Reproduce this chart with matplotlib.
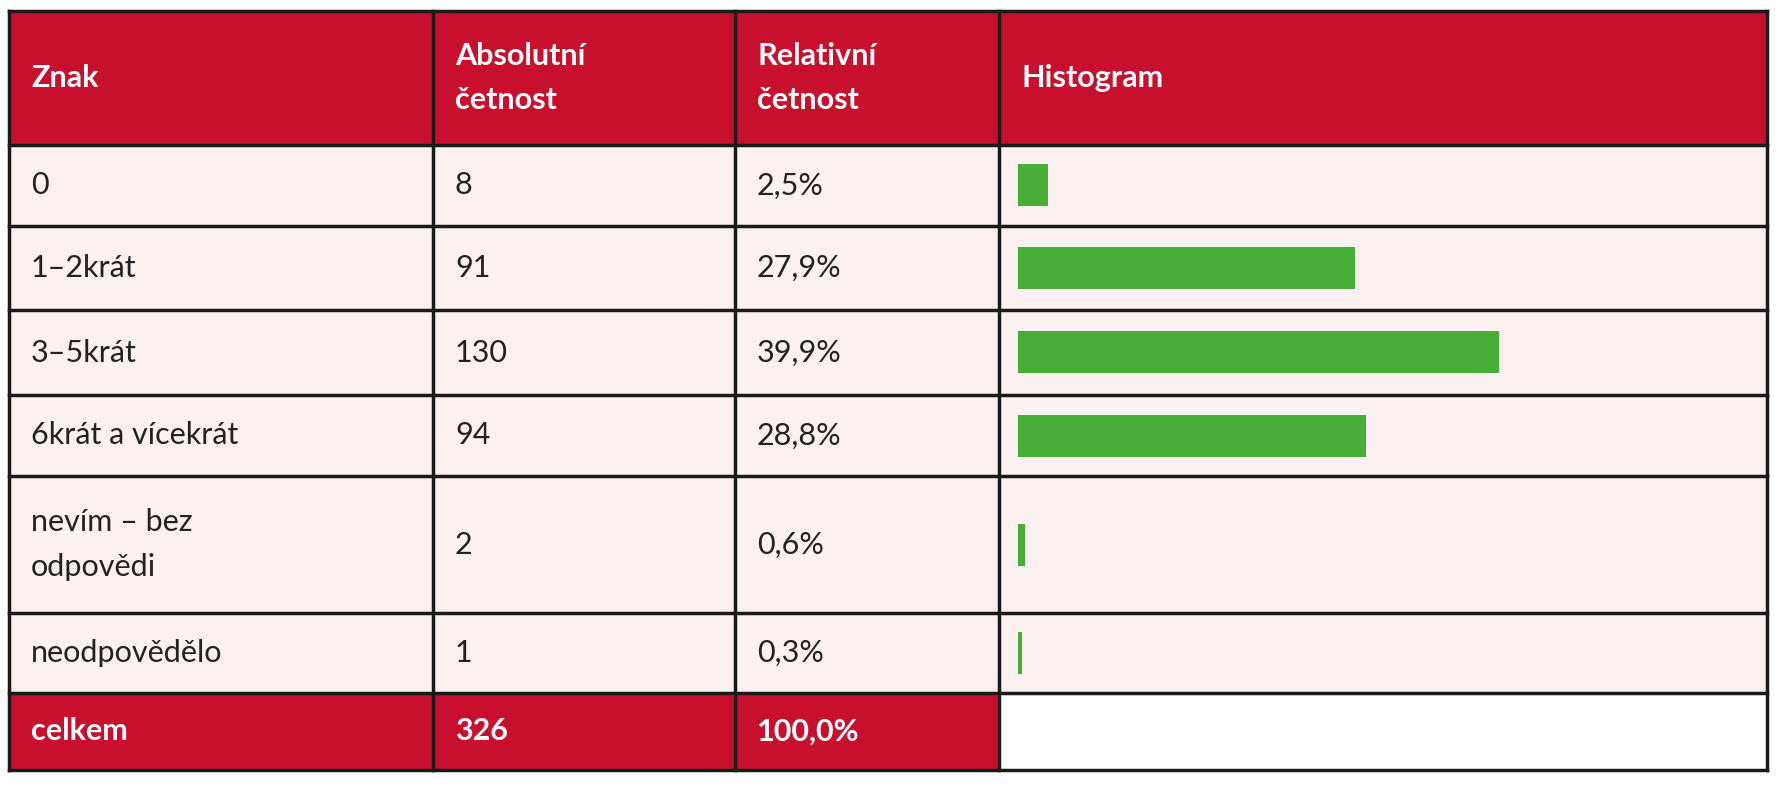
import matplotlib
matplotlib.use("Agg")
import matplotlib.pyplot as plt
from matplotlib.patches import Rectangle

headers = ["Znak", "Absolutní\nčetnost", "Relativní\nčetnost", "Histogram"]
categories = ["0", "1–2krát", "3–5krát", "6krát a vícekrát", "nevím – bez\nodpovědi", "neodpovědělo"]
counts = [8, 91, 130, 94, 2, 1]
percents = ["2,5%", "27,9%", "39,9%", "28,8%", "0,6%", "0,3%"]
total_label = "celkem"
total_count = "326"
total_pct = "100,0%"

W, H = 1778, 800
RED = "#C8102E"
ROWBG = "#FCF1F1"
GREEN = "#46AE37"
cols = [9, 433, 735, 999, 1767]
rows = [11, 145, 226, 310, 395, 476, 613, 693, 770]

fig = plt.figure(figsize=(W/100, H/100), dpi=100)
ax = fig.add_axes([0, 0, 1, 1])
ax.set_xlim(0, W); ax.set_ylim(H, 0); ax.axis("off")
font = "Lato"

def cell(c, r, color):
    ax.add_patch(Rectangle((cols[c], rows[r]), cols[c+1]-cols[c], rows[r+1]-rows[r], fc=color, ec="none", zorder=0))

nrows = len(categories) + 2
for r in range(nrows):
    for c in range(4):
        if r == 0 or (r == nrows-1 and c < 3):
            cell(c, r, RED)
        elif r == nrows-1:
            cell(c, r, "white")
        else:
            cell(c, r, ROWBG)

for y in rows:
    ax.plot([cols[0], cols[-1]], [y, y], color="#1a1a1a", lw=2.5, zorder=3)
for x in cols:
    ax.plot([x, x], [rows[0], rows[-1]], color="#1a1a1a", lw=2.5, zorder=3)

tx = [c + 22 for c in cols[:4]]
def put(c, r, s, color="#222222", bold=False):
    yc = (rows[r] + rows[r+1]) / 2
    ax.text(tx[c], yc, s, ha="left", va="center", fontsize=22, family=font,
            color=color, fontweight="bold" if bold else "normal", linespacing=1.7, zorder=4)

for c, h in enumerate(headers):
    put(c, 0, h, "white", True)
for i, (cat, n, p) in enumerate(zip(categories, counts, percents)):
    put(0, i+1, cat); put(1, i+1, str(n)); put(2, i+1, p)
put(0, nrows-1, total_label, "white", True)
put(1, nrows-1, total_count, "white", True)
put(2, nrows-1, total_pct, "white", True)

# histogram bars
x0, x1 = 1018, 1767
y0, y1 = rows[1], rows[nrows-1]
hax = fig.add_axes([x0/W, 1 - y1/H, (x1-x0)/W, (y1-y0)/H])
hax.set_xlim(0, (x1-x0)/3.7)
hax.set_ylim(y1, y0)
hax.axis("off")
centers = [(rows[i+1] + rows[i+2]) / 2 for i in range(len(counts))]
hax.barh(centers, counts, height=42, color=GREEN, left=0)

fig.savefig("out.png", dpi=100, facecolor="white")
